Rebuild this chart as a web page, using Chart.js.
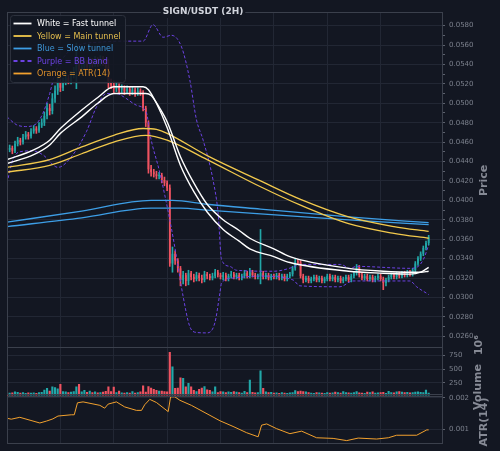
<!DOCTYPE html>
<html>
<head>
<meta charset="utf-8">
<script src="https://cdn.jsdelivr.net/npm/chart.js@4.4.1/dist/chart.umd.min.js"></script>
<style>
  html, body { margin: 0; padding: 0; background: #131722; }
  #wrap { width: 500px; height: 451px; }
</style>
</head>
<body>
<div id="wrap"><canvas id="chartSign" width="500" height="451"></canvas></div>
<script>
// ---- data (2H candles, index 0..158) ----
const chartTitle = 'SIGN/USDT (2H)';

const opens = [
  0.0455,0.0452,0.0454,0.0451,0.0458,0.0462,0.0460,0.0465,0.0468,0.0466,
  0.0471,0.0474,0.0472,0.0477,0.0480,0.0487,0.0495,0.0492,0.0505,0.0513,
  0.0521,0.0516,0.0522,0.0526,0.0523,0.0529,0.0533,0.0541,0.0533,0.0537,
  0.0541,0.0538,0.0543,0.0540,0.0544,0.0541,0.0545,0.0542,0.0537,0.0522,
  0.0519,0.0515,0.0518,0.0514,0.0516,0.0512,0.0515,0.0511,0.0514,0.0510,
  0.0513,0.0511,0.0495,0.0480,0.0432,0.0429,0.0427,0.0425,0.0426,0.0421,
  0.0418,0.0413,0.0335,0.0345,0.0338,0.0330,0.0318,0.0323,0.0317,0.0325,
  0.0321,0.0319,0.0323,0.0320,0.0318,0.0324,0.0322,0.0320,0.0322,0.0326,
  0.0323,0.0321,0.0323,0.0319,0.0322,0.0324,0.0321,0.0323,0.0320,0.0322,
  0.0325,0.0322,0.0326,0.0323,0.0321,0.0322,0.0325,0.0321,0.0323,0.0320,
  0.0322,0.0321,0.0323,0.0320,0.0322,0.0319,0.0322,0.0324,0.0330,0.0337,
  0.0336,0.0322,0.0318,0.0320,0.0317,0.0319,0.0321,0.0318,0.0320,0.0317,
  0.0319,0.0322,0.0319,0.0321,0.0318,0.0320,0.0317,0.0319,0.0321,0.0318,
  0.0322,0.0325,0.0331,0.0323,0.0320,0.0322,0.0319,0.0321,0.0318,0.0320,
  0.0322,0.0319,0.0315,0.0318,0.0321,0.0323,0.0321,0.0324,0.0322,0.0325,
  0.0323,0.0326,0.0324,0.0328,0.0335,0.0340,0.0345,0.0351,0.0356
];
const highs = [
  0.0458,0.0457,0.0456,0.0461,0.0465,0.0464,0.0468,0.0471,0.0470,0.0474,
  0.0477,0.0476,0.0480,0.0484,0.0491,0.0500,0.0499,0.0510,0.0518,0.0527,
  0.0525,0.0526,0.0530,0.0529,0.0533,0.0537,0.0562,0.0545,0.0541,0.0545,
  0.0544,0.0547,0.0546,0.0548,0.0547,0.0549,0.0548,0.0545,0.0545,0.0525,
  0.0523,0.0522,0.0520,0.0519,0.0518,0.0518,0.0517,0.0517,0.0516,0.0516,
  0.0515,0.0513,0.0497,0.0482,0.0436,0.0432,0.0430,0.0429,0.0428,0.0424,
  0.0420,0.0416,0.0352,0.0348,0.0340,0.0332,0.0327,0.0325,0.0328,0.0327,
  0.0324,0.0326,0.0325,0.0323,0.0327,0.0326,0.0324,0.0325,0.0329,0.0328,
  0.0325,0.0326,0.0325,0.0324,0.0327,0.0326,0.0325,0.0325,0.0324,0.0328,
  0.0327,0.0330,0.0328,0.0325,0.0324,0.0370,0.0327,0.0325,0.0325,0.0324,
  0.0324,0.0325,0.0325,0.0324,0.0324,0.0324,0.0326,0.0332,0.0340,0.0339,
  0.0338,0.0324,0.0322,0.0322,0.0321,0.0323,0.0323,0.0322,0.0322,0.0321,
  0.0324,0.0324,0.0323,0.0323,0.0322,0.0322,0.0321,0.0323,0.0323,0.0324,
  0.0327,0.0334,0.0333,0.0325,0.0324,0.0324,0.0323,0.0323,0.0322,0.0324,
  0.0324,0.0321,0.0320,0.0323,0.0325,0.0325,0.0326,0.0326,0.0327,0.0327,
  0.0328,0.0328,0.0330,0.0337,0.0342,0.0347,0.0353,0.0358,0.0364
];
const lows = [
  0.0449,0.0450,0.0448,0.0449,0.0456,0.0457,0.0458,0.0463,0.0463,0.0464,
  0.0469,0.0469,0.0470,0.0475,0.0477,0.0484,0.0488,0.0489,0.0501,0.0509,
  0.0512,0.0513,0.0519,0.0520,0.0520,0.0526,0.0515,0.0530,0.0530,0.0534,
  0.0535,0.0536,0.0537,0.0538,0.0538,0.0539,0.0539,0.0534,0.0516,0.0515,
  0.0511,0.0512,0.0510,0.0511,0.0509,0.0510,0.0508,0.0509,0.0507,0.0508,
  0.0508,0.0492,0.0476,0.0428,0.0425,0.0424,0.0422,0.0422,0.0418,0.0415,
  0.0410,0.0332,0.0326,0.0334,0.0326,0.0312,0.0314,0.0312,0.0313,0.0318,
  0.0316,0.0317,0.0317,0.0315,0.0316,0.0319,0.0318,0.0318,0.0320,0.0321,
  0.0319,0.0318,0.0317,0.0317,0.0320,0.0319,0.0319,0.0318,0.0318,0.0320,
  0.0320,0.0320,0.0321,0.0319,0.0319,0.0314,0.0319,0.0319,0.0318,0.0318,
  0.0319,0.0319,0.0318,0.0318,0.0317,0.0317,0.0320,0.0322,0.0328,0.0334,
  0.0320,0.0315,0.0316,0.0315,0.0315,0.0317,0.0316,0.0316,0.0315,0.0315,
  0.0317,0.0317,0.0317,0.0316,0.0316,0.0315,0.0315,0.0317,0.0316,0.0316,
  0.0320,0.0323,0.0321,0.0318,0.0318,0.0317,0.0317,0.0316,0.0316,0.0318,
  0.0317,0.0308,0.0312,0.0316,0.0319,0.0319,0.0319,0.0320,0.0320,0.0321,
  0.0321,0.0322,0.0322,0.0326,0.0333,0.0338,0.0343,0.0349,0.0354
];
const closes = [
  0.0452,0.0454,0.0451,0.0458,0.0462,0.0460,0.0465,0.0468,0.0466,0.0471,
  0.0474,0.0472,0.0477,0.0480,0.0487,0.0495,0.0492,0.0505,0.0513,0.0521,
  0.0516,0.0522,0.0526,0.0523,0.0529,0.0533,0.0541,0.0533,0.0537,0.0541,
  0.0538,0.0543,0.0540,0.0544,0.0541,0.0545,0.0542,0.0537,0.0522,0.0519,
  0.0515,0.0518,0.0514,0.0516,0.0512,0.0515,0.0511,0.0514,0.0510,0.0513,
  0.0511,0.0495,0.0480,0.0432,0.0429,0.0427,0.0425,0.0426,0.0421,0.0418,
  0.0413,0.0335,0.0345,0.0338,0.0330,0.0318,0.0323,0.0317,0.0325,0.0321,
  0.0319,0.0323,0.0320,0.0318,0.0324,0.0322,0.0320,0.0322,0.0326,0.0323,
  0.0321,0.0323,0.0319,0.0322,0.0324,0.0321,0.0323,0.0320,0.0322,0.0325,
  0.0322,0.0326,0.0323,0.0321,0.0322,0.0325,0.0321,0.0323,0.0320,0.0322,
  0.0321,0.0323,0.0320,0.0322,0.0319,0.0322,0.0324,0.0330,0.0337,0.0336,
  0.0322,0.0318,0.0320,0.0317,0.0319,0.0321,0.0318,0.0320,0.0317,0.0319,
  0.0322,0.0319,0.0321,0.0318,0.0320,0.0317,0.0319,0.0321,0.0318,0.0322,
  0.0325,0.0331,0.0323,0.0320,0.0322,0.0319,0.0321,0.0318,0.0320,0.0322,
  0.0319,0.0315,0.0318,0.0321,0.0323,0.0321,0.0324,0.0322,0.0325,0.0323,
  0.0326,0.0324,0.0328,0.0335,0.0340,0.0345,0.0351,0.0356,0.0362
];
// volume in units of 10^6
const volumes = [
  80,70,75,96,85,70,80,65,75,70,
  75,65,80,85,127,157,110,187,170,150,
  229,100,95,80,90,100,187,229,95,120,
  85,110,80,95,75,80,90,105,187,100,
  180,80,110,75,70,80,70,100,70,80,
  95,205,90,190,160,140,120,110,110,100,
  95,809,549,158,160,350,340,187,248,187,
  120,100,140,160,190,130,120,95,187,80,
  100,95,80,95,85,100,90,80,70,102,
  80,307,85,75,80,476,157,95,80,85,
  70,75,65,80,70,65,75,80,117,100,
  110,100,95,80,70,65,80,75,70,65,
  80,70,75,90,80,70,100,80,75,70,
  80,100,75,70,65,90,80,95,70,75,
  80,85,65,105,80,75,95,100,90,80,
  85,75,80,90,95,85,80,126,70
];

// indicator lines as [candle index, value]
const fastTunnelA = [[0,0.0442],[10,0.0452],[16,0.0462],[20,0.0474],[28,0.0493],[34,0.0506],[40,0.0517],[51,0.0517],[53,0.0514],[56,0.0500],[60,0.0475],[65,0.0436],[70,0.0409],[75,0.0388],[81,0.0370],[87,0.0358],[91,0.0350],[100,0.0342],[106,0.0336],[128,0.0327],[141,0.0325],[151,0.0324],[155,0.0326],[158,0.0331]];
const fastTunnelB = [[0,0.0438],[10,0.0447],[16,0.0457],[20,0.0469],[28,0.0486],[34,0.0500],[40,0.0510],[52,0.0510],[54,0.0508],[57,0.0496],[60,0.0481],[65,0.0445],[70,0.0418],[75,0.0396],[81,0.0380],[87,0.0369],[91,0.0361],[100,0.0350],[106,0.0342],[128,0.0330],[141,0.0327],[151,0.0326],[155,0.0326],[158,0.0327]];
const mainTunnelA = [[0,0.0434],[16,0.0442],[28,0.0455],[40,0.0467],[51,0.0474],[56,0.0473],[60,0.0469],[75,0.0446],[95,0.0420],[110,0.0401],[128,0.0383],[145,0.0373],[158,0.0368]];
const mainTunnelB = [[0,0.0429],[16,0.0436],[28,0.0448],[40,0.0460],[52,0.0467],[60,0.0462],[75,0.0442],[95,0.0414],[110,0.0395],[128,0.0376],[145,0.0366],[158,0.0361]];
const slowTunnelA = [[0,0.03775],[28,0.0389],[54,0.0400],[62,0.0400],[75,0.0396],[95,0.0391],[128,0.0383],[158,0.0377]];
const slowTunnelB = [[0,0.0373],[28,0.0382],[54,0.0392],[65,0.0392],[75,0.0390],[95,0.0386],[128,0.0380],[158,0.0375]];
const bbUpper = [[0,0.0486],[3.5,0.0478],[7,0.0476],[11,0.0479],[13.5,0.0490],[16,0.0510],[18,0.0531],[22,0.0550],[27,0.0560],[35,0.0563],[43.5,0.0564],[51,0.0564],[54.7,0.0581],[58.5,0.0568],[61.6,0.0570],[65.4,0.0558],[68.5,0.0524],[71,0.0483],[73.5,0.0462],[77.2,0.0421],[79.1,0.0387],[80.4,0.0339],[83.5,0.0332],[86,0.0328],[100,0.0327],[107,0.0331],[110,0.0334],[125,0.0334],[128.5,0.0330],[131,0.0332],[151,0.0330],[153.5,0.0331],[156,0.0339],[158,0.0354]];
const bbLower = [[0,0.0418],[2.2,0.0442],[4.8,0.0450],[9.6,0.0451],[13.4,0.0447],[19.1,0.0434],[24.7,0.0447],[29.8,0.0471],[33.5,0.0496],[37.3,0.0510],[41,0.0510],[43.5,0.0507],[48.5,0.0498],[52.3,0.0490],[53.5,0.0469],[57.3,0.0428],[61,0.0380],[63.5,0.0342],[66,0.0301],[68.5,0.0270],[71,0.0264],[74.8,0.02635],[77.9,0.0274],[79.8,0.0305],[80.4,0.0315],[84.7,0.0320],[94.8,0.0322],[107.2,0.0318],[109.7,0.0312],[124.7,0.0311],[129.6,0.0317],[151,0.0317],[153.5,0.0311],[158,0.0303]];
const atr14 = [[0,0.00135],[1.6,0.00132],[4.8,0.00138],[12.3,0.00120],[14.8,0.00126],[17.2,0.00133],[19.1,0.00142],[24.1,0.00146],[25.2,0.00146],[26.4,0.00184],[28.5,0.00187],[34.8,0.00176],[36.6,0.00167],[37.9,0.00180],[41,0.00187],[44.1,0.00171],[48.5,0.00160],[50.4,0.00160],[51.6,0.00178],[53.5,0.00195],[56,0.00185],[60.4,0.00156],[61.3,0.00203],[62.9,0.00203],[64.8,0.00192],[69.1,0.00176],[79.8,0.00127],[84.7,0.00109],[89.8,0.00089],[94.1,0.00076],[95.4,0.00113],[97.3,0.00117],[101,0.00102],[106,0.00086],[110.4,0.00094],[116,0.00073],[122.2,0.00071],[127.3,0.00064],[131.6,0.00072],[138.5,0.00069],[142.9,0.00073],[146,0.00081],[153.5,0.00081],[157.3,0.00098],[158,0.00098]];

// tick labels of the two lower panels
const volumeTicks = [250, 500, 750];
const atrTicks = [0.001, 0.002];

// ---- styling ----
const bgColor = '#131722';
const gridColor = '#222734';
const spineColor = '#3b404c';
const tickTextColor = '#7c818d';
const axisTitleColor = '#868a95';
const upColor = '#22a7a8';
const downColor = '#ef5361';
const fontFamily = '"DejaVu Sans", sans-serif';

const candleColors = closes.map((c, i) => c >= opens[i] ? upColor : downColor);
const toPoints = pairs => pairs.map(p => ({x: p[0], y: p[1]}));
const onStep = (v, s) => Math.abs(v / s - Math.round(v / s)) < 1e-6;

function lineSet(label, pairs, color, width, order, dash) {
    return {
        type: 'line', label: label, data: toPoints(pairs), yAxisID: 'y',
        borderColor: color, borderWidth: width, borderDash: dash || [],
        pointRadius: 0, cubicInterpolationMode: 'monotone', order: order
    };
}

const legendItems = [
    {text: 'White = Fast tunnel', line: '#ffffff', color: '#ffffff', dash: []},
    {text: 'Yellow = Main tunnel', line: '#f2c94c', color: '#e6bf4e', dash: []},
    {text: 'Blue = Slow tunnel', line: '#3d9ee6', color: '#3d96d8', dash: []},
    {text: 'Purple = BB band', line: '#6c42e3', color: '#6c42e3', dash: [4, 3]},
    {text: 'Orange = ATR(14)', line: '#f2a12e', color: '#e0912a', dash: []}
];

/*
    Draws background, panel frames, rotated axis titles, title and legend
*/
const panelPlugin = {
    id: 'panelPlugin',
    beforeDraw(chart) {
        const c = chart.ctx;
        c.save();
        c.fillStyle = bgColor;
        c.fillRect(0, 0, chart.width, chart.height);
        c.restore();
    },
    afterDraw(chart) {
        const c = chart.ctx, a = chart.chartArea, s = chart.scales;
        c.save();
        c.strokeStyle = spineColor;
        c.lineWidth = 1;
        const frames = [[s.y.top, s.y.bottom], [s.yVol.top, s.yVol.bottom - 1.5], [s.yAtr.top + 0.5, s.yAtr.bottom]];
        frames.forEach(f => {
            c.strokeRect(Math.round(a.left) + 0.5, Math.round(f[0]) + 0.5, Math.round(a.right - a.left), Math.round(f[1] - f[0]));
        });

        const vtext = (txt, x, y) => {
            c.save();
            c.translate(x, y);
            c.rotate(-Math.PI / 2);
            c.font = 'bold 11px ' + fontFamily;
            c.fillStyle = axisTitleColor;
            c.textAlign = 'center';
            c.textBaseline = 'middle';
            c.fillText(txt, 0, 0);
            c.restore();
        };
        vtext('Price', 484, (s.y.top + s.y.bottom) / 2 + 1);
        vtext('10\u2076', 479, 345);
        vtext('Volume', 478, 387);
        vtext('ATR(14)', 484, 422);

        // title over the top spine
        c.font = 'bold 9px ' + fontFamily;
        const tw = c.measureText(chartTitle).width;
        c.fillStyle = bgColor;
        c.fillRect(203 - tw / 2 - 2, 6, tw + 4, 12);
        c.fillStyle = '#d1d4dc';
        c.textAlign = 'center';
        c.textBaseline = 'middle';
        c.fillText(chartTitle, 203, 12);

        // legend box
        c.beginPath();
        c.roundRect(10.5, 15.5, 115, 67, 3);
        c.fillStyle = 'rgba(19,23,34,0.9)';
        c.fill();
        c.strokeStyle = '#2c313d';
        c.stroke();
        c.font = '8px ' + fontFamily;
        c.textAlign = 'left';
        legendItems.forEach((it, k) => {
            const y = 23.5 + k * 12.5;
            c.beginPath();
            c.setLineDash(it.dash);
            c.strokeStyle = it.line;
            c.lineWidth = 1.8;
            c.moveTo(13.5, y);
            c.lineTo(31.5, y);
            c.stroke();
            c.setLineDash([]);
            c.fillStyle = it.color;
            c.fillText(it.text, 37, y + 0.5);
        });
        c.restore();
    }
};

function rightAxis(extra) {
    return Object.assign({
        type: 'linear',
        position: 'right',
        stack: 'panels',
        bounds: 'ticks',
        beginAtZero: false,
        border: {color: spineColor},
        afterFit: scale => { scale.width = 58; }
    }, extra);
}

function fixedTicksAxis(weight, min, max, tickValues, digits) {
    return rightAxis({
        stackWeight: weight, min: min, max: max,
        afterBuildTicks: scale => { scale.ticks = tickValues.map(v => ({value: v})); },
        ticks: {
            autoSkip: false, padding: 4, color: tickTextColor,
            font: {family: fontFamily, size: 7},
            callback: v => digits ? v.toFixed(digits) : String(v)
        },
        grid: {tickLength: 3, color: gridColor, tickColor: '#5c616d'}
    });
}

const ctx = document.getElementById('chartSign');
new Chart(ctx, {
    type: 'bar',
    data: {
        datasets: [
            lineSet('Fast tunnel A', fastTunnelA, '#ffffff', 1.4, 1),
            lineSet('Fast tunnel B', fastTunnelB, '#ffffff', 1.4, 1),
            lineSet('Main tunnel A', mainTunnelA, '#f2c94c', 1.3, 2),
            lineSet('Main tunnel B', mainTunnelB, '#f2c94c', 1.3, 2),
            lineSet('Slow tunnel A', slowTunnelA, '#3d9ee6', 1.3, 3),
            lineSet('Slow tunnel B', slowTunnelB, '#3d9ee6', 1.3, 3),
            lineSet('BB upper', bbUpper, '#6c42e3', 1, 4, [3, 2]),
            lineSet('BB lower', bbLower, '#6c42e3', 1, 4, [3, 2]),
            {
                label: 'Wicks', yAxisID: 'y', grouped: false, order: 21,
                data: lows.map((l, i) => ({x: i, y: [l, highs[i]]})),
                backgroundColor: candleColors, maxBarThickness: 1,
                categoryPercentage: 1, barPercentage: 1
            },
            {
                label: 'Bodies', yAxisID: 'y', grouped: false, order: 20,
                data: opens.map((o, i) => ({x: i, y: [o, closes[i]]})),
                backgroundColor: candleColors, minBarLength: 1,
                categoryPercentage: 1, barPercentage: 0.65
            },
            {
                label: 'Volume', yAxisID: 'yVol', grouped: false, order: 20,
                data: volumes.map((v, i) => ({x: i, y: v})),
                backgroundColor: candleColors,
                categoryPercentage: 1, barPercentage: 0.8
            },
            {
                type: 'line', label: 'ATR(14)', yAxisID: 'yAtr', order: 1,
                data: toPoints(atr14), borderColor: '#f2a12e', borderWidth: 1,
                pointRadius: 0, tension: 0
            }
        ]
    },
    options: {
        responsive: false,
        animation: false,
        layout: {padding: {left: 7, right: 0, top: 12, bottom: 8}},
        plugins: {legend: {display: false}, tooltip: {enabled: false}},
        scales: {
            x: {
                type: 'linear', min: 0, max: 163, offset: false, bounds: 'ticks',
                ticks: {display: false, stepSize: 20},
                grid: {
                    offset: false, drawTicks: false,
                    color: c => onStep(c.tick.value, 20) ? gridColor : 'rgba(0,0,0,0)'
                },
                border: {display: false}
            },
            y: rightAxis({
                stackWeight: 335.6, min: 0.0249, max: 0.0594,
                ticks: {
                    stepSize: 0.001, autoSkip: false, padding: 4, color: tickTextColor,
                    font: {family: fontFamily, size: 7},
                    callback: v => onStep(v, 0.002) ? v.toFixed(4) : ''
                },
                grid: {
                    tickLength: 3,
                    color: c => onStep(c.tick.value, 0.002) ? gridColor : 'rgba(0,0,0,0)',
                    tickColor: c => onStep(c.tick.value, 0.001) ? '#5c616d' : 'rgba(0,0,0,0)'
                }
            }),
            yVol: fixedTicksAxis(48.7, 20, 902, volumeTicks, 0),
            yAtr: fixedTicksAxis(47.3, 0.00057, 0.00207, atrTicks, 3)
        }
    },
    plugins: [panelPlugin]
});
</script>
</body>
</html>
